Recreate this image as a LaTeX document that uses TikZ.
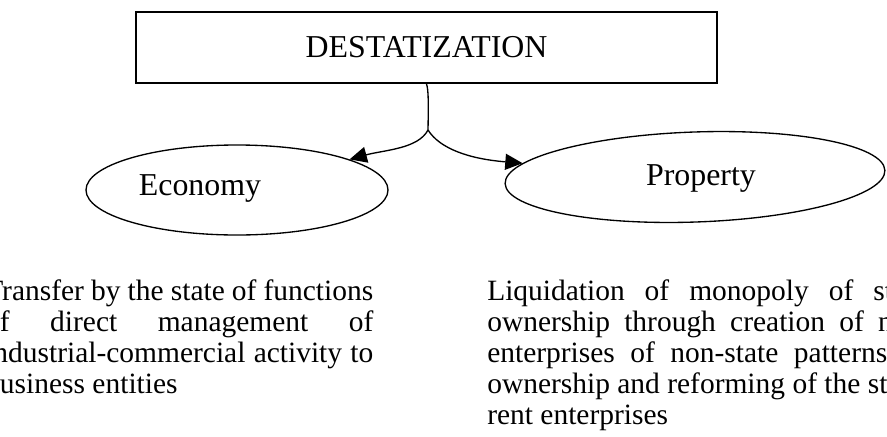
\documentclass[tikz,border=0pt]{standalone}
\usepackage{fontspec}
\setmainfont{Liberation Serif}
\usetikzlibrary{shapes.geometric,arrows.meta}
\begin{document}
\begin{tikzpicture}[x=0.75pt,y=-0.75pt,
  every node/.style={font=\fontsize{22.1pt}{23pt}\selectfont},
  bigfont/.style={font=\fontsize{23.9pt}{25pt}\selectfont},
  titlebox/.style={draw, bigfont, line width=1.3pt, minimum width=435.75pt, minimum height=53.25pt, inner sep=0},
  oval/.style={draw, ellipse, line width=1pt, inner sep=0},
  link/.style={line width=1pt, -{Triangle[length=13pt,width=12pt]}},
  txt/.style={anchor=base west, inner sep=0},
  lbl/.style={anchor=base, inner sep=0, bigfont}]
\useasboundingbox (0,0) rectangle (887,436);
\clip (0,0) rectangle (887,436);

% heading box
\node[titlebox] (top) at (426.5,47.5) {DESTATIZATION};

% the two spheres
\node[oval, minimum width=226.5pt, minimum height=67.5pt] (eco) at (237,190) {};
\node[oval, minimum width=285pt, minimum height=67.5pt, rotate=2] (prop) at (695,177) {};
\node[lbl] (ecot) at (200,195) {Economy};
\node[lbl] (propt) at (701,185) {Property};

% branching connector
\coordinate (j) at (428,130);
\draw[line width=1pt] (top.south) .. controls (428.5,90) and (428.5,102) .. (j);
\draw[link] (j) .. controls (418,149) and (384,150) .. (eco);
\draw[link] (j) .. controls (440,149) and (470,159) .. (prop);

% explanations
\node[txt] (l1) at (-15,300) {\makebox[291pt][s]{Transfer by the state of functions}};
\node[txt] (l2) at (-15,331) {\makebox[291pt][s]{of direct management of}};
\node[txt] (l3) at (-15,362) {\makebox[291pt][s]{industrial-commercial activity to}};
\node[txt] (l4) at (-15,393) {business entities};

\node[txt] (r1) at (487,300) {\makebox[330pt][s]{Liquidation of monopoly of state}};
\node[txt] (r2) at (487,331) {\makebox[330pt][s]{ownership through creation of new}};
\node[txt] (r3) at (487,362) {\makebox[330pt][s]{enterprises of non-state patterns of}};
\node[txt] (r4) at (487,393) {ownership and reforming of the state cur-};
\node[txt] (r5) at (487,424) {rent enterprises};
\end{tikzpicture}
\end{document}
